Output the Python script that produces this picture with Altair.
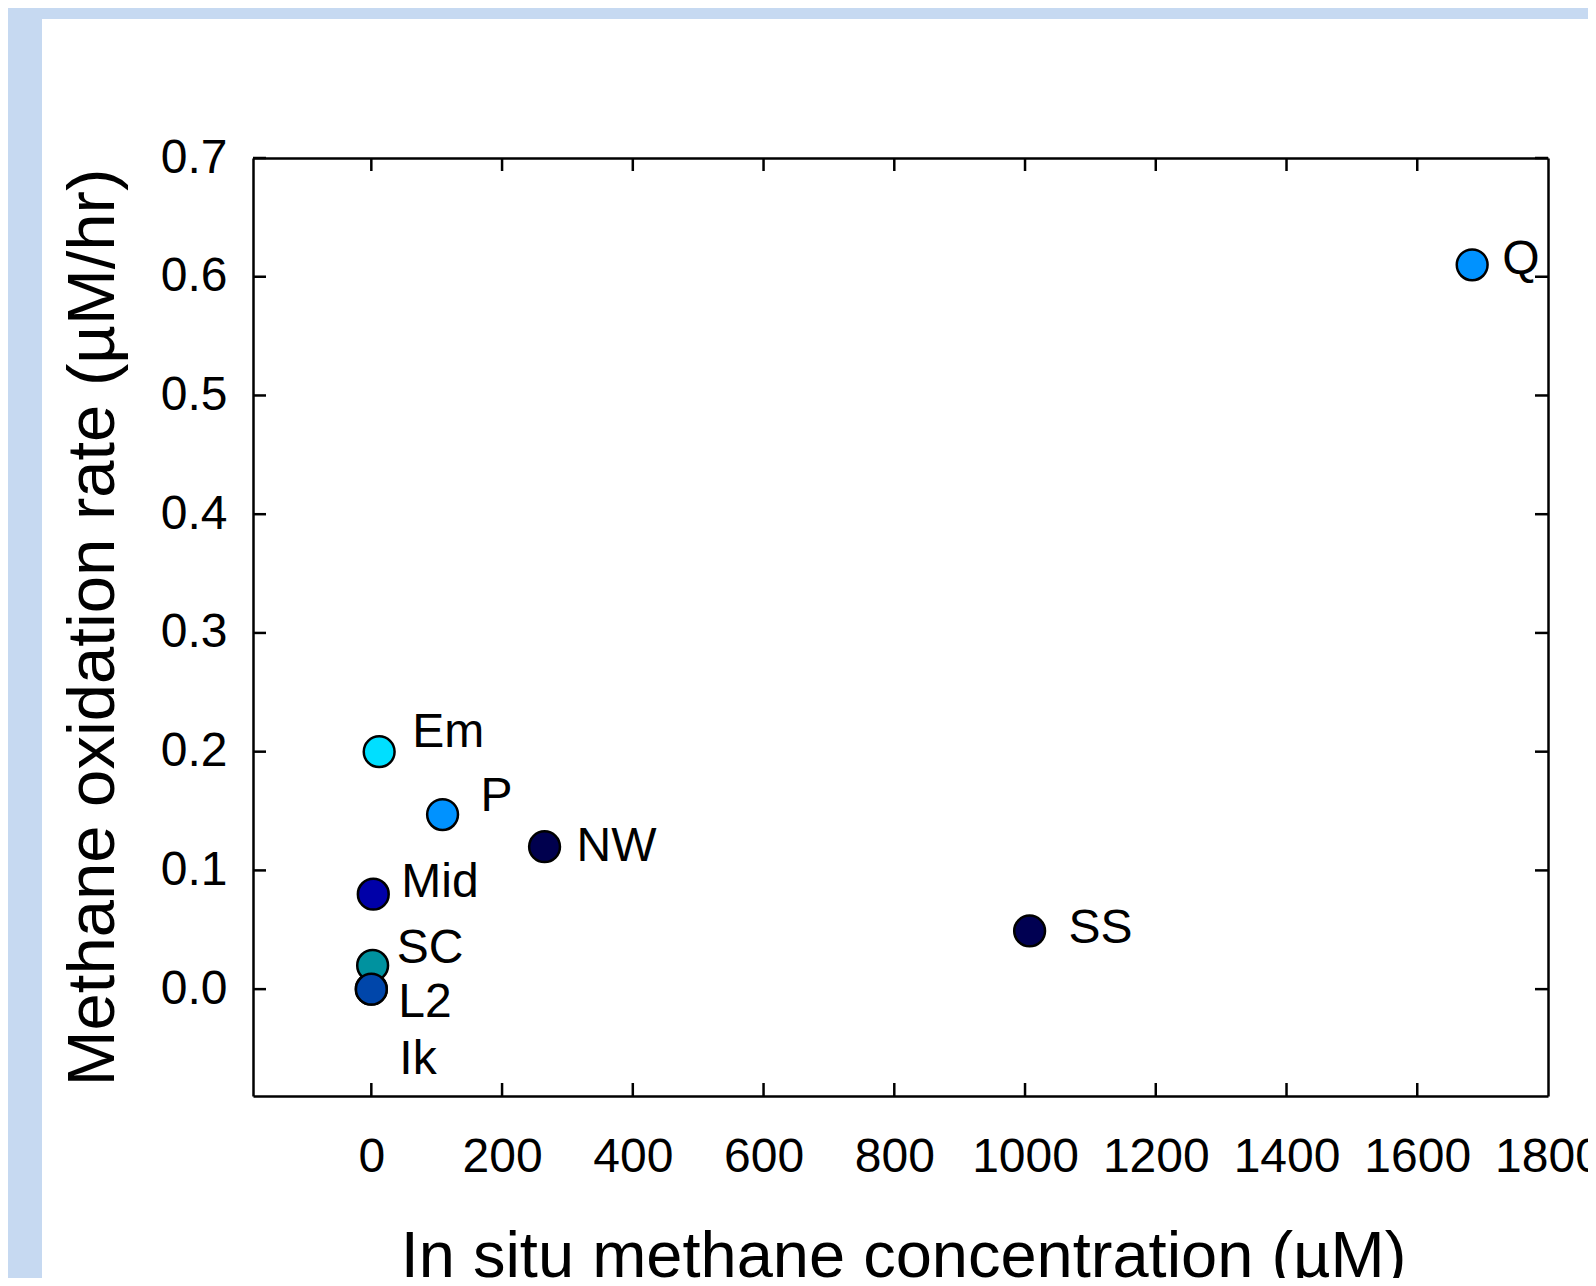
import altair as alt
import pandas as pd

# ---- data ----
sites = ["Ik", "SC", "L2", "Mid", "Em", "P", "NW", "SS", "Q"]
conc = [0, 2, 0, 3, 12, 109, 265, 1007, 1684]
rate = [0.0, 0.02, 0.0, 0.08, 0.20, 0.147, 0.12, 0.049, 0.61]
colors = ["#0046AA", "#00929F", "#0046AA", "#0000A8", "#00DFFF",
          "#0092FF", "#00004E", "#000052", "#0092FF"]
x_tick_values = [0, 200, 400, 600, 800, 1000, 1200, 1400, 1600]
x_label_values = [0, 200, 400, 600, 800, 1000, 1200, 1400, 1600, 1800]
y_tick_values = [0.0, 0.1, 0.2, 0.3, 0.4, 0.5, 0.6, 0.7]

# ---- label offsets (style) ----
label_offsets = {
    "Em": (33, -5), "P": (38, -4), "NW": (32, 14), "Mid": (28, 3),
    "SC": (24, -2), "L2": (27, 28), "Ik": (28, 85), "Q": (30, 9), "SS": (39, 12),
}

FONT = "Liberation Sans"
W, H = 1295, 938
PAD_L, PAD_T, PAD_R, PAD_B = 245, 150, 40, 182
BAND = "#C6D9F1"

df = pd.DataFrame({"site": sites, "conc": conc, "rate": rate,
                   "idx": list(range(len(sites)))})
xt = pd.DataFrame({"v": x_tick_values})
yt = pd.DataFrame({"v": y_tick_values})

xscale = alt.Scale(domain=[-181, 1800], nice=False, zero=False)
yscale = alt.Scale(domain=[-0.09, 0.7], nice=False, zero=False)

x_bottom = alt.Axis(values=x_label_values, format="d", ticks=False, tickSize=0, grid=False,
                    labelFontSize=48, labelFont=FONT, labelColor="black",
                    labelBaseline="alphabetic", labelPadding=75, labelFlush=False,
                    labelOverlap=False, zindex=1,
                    domainColor="black", domainWidth=2.5,
                    title="In situ methane concentration (\u00b5M)",
                    titleFont=FONT, titleFontSize=65, titleFontWeight="normal",
                    titleColor="black", titleBaseline="alphabetic",
                    titleY=180, titleX=650, titleAlign="center")
y_left = alt.Axis(values=y_tick_values, format=".1f", ticks=False, tickSize=0,
                  grid=False, labelFontSize=48, labelFont=FONT, labelColor="black",
                  labelPadding=26, labelBaseline="middle", labelFlush=False,
                  labelOverlap=False, zindex=1,
                  domainColor="black", domainWidth=2.5,
                  title="Methane oxidation rate (\u00b5M/hr)",
                  titleFont=FONT, titleFontSize=67, titleFontWeight="normal",
                  titleColor="black", titleBaseline="alphabetic",
                  titleX=-140, titleY=H / 2, titleAlign="center", titleAngle=270)
x_top = alt.Axis(orient="top", labels=False, ticks=False, tickSize=0, grid=False,
                 domainColor="black", domainWidth=2.5, title=None, zindex=1)
y_right = alt.Axis(orient="right", labels=False, ticks=False, tickSize=0, grid=False,
                   domainColor="black", domainWidth=2.5, title=None, zindex=1)

one = pd.DataFrame({"a": [0]})
band_left = alt.Chart(one).mark_rect(color=BAND).encode(
    x=alt.value(-PAD_L), x2=alt.value(-211), y=alt.value(-PAD_T), y2=alt.value(H + PAD_B)
)
band_top = alt.Chart(one).mark_rect(color=BAND).encode(
    x=alt.value(-PAD_L), x2=alt.value(W + PAD_R), y=alt.value(-PAD_T), y2=alt.value(-139)
)

frame = alt.Chart(df).mark_point(opacity=0).encode(
    x=alt.X("conc:Q", scale=xscale, axis=x_top),
    y=alt.Y("rate:Q", scale=yscale, axis=y_right),
)

tick_style = dict(color="black", strokeWidth=2.5)
tb = alt.Chart(xt).mark_rule(**tick_style).encode(
    x=alt.X("v:Q", scale=xscale, axis=None), y=alt.value(H), y2=alt.value(H - 13))
tt = alt.Chart(xt).mark_rule(**tick_style).encode(
    x=alt.X("v:Q", scale=xscale, axis=None), y=alt.value(0), y2=alt.value(13))
tl = alt.Chart(yt).mark_rule(**tick_style).encode(
    y=alt.Y("v:Q", scale=yscale, axis=None), x=alt.value(0), x2=alt.value(13))
tr = alt.Chart(yt).mark_rule(**tick_style).encode(
    y=alt.Y("v:Q", scale=yscale, axis=None), x=alt.value(W), x2=alt.value(W - 13))

points = alt.Chart(df).mark_circle(size=950, opacity=1, stroke="black",
                                   strokeWidth=2.5).encode(
    x=alt.X("conc:Q", scale=xscale, axis=x_bottom),
    y=alt.Y("rate:Q", scale=yscale, axis=y_left),
    color=alt.Color("site:N", scale=alt.Scale(domain=sites, range=colors), legend=None),
    order=alt.Order("idx:Q"),
)

labels = []
for s in sites:
    dx, dy = label_offsets[s]
    labels.append(
        alt.Chart(df).transform_filter(alt.datum.site == s).mark_text(
            align="left", baseline="alphabetic", dx=dx, dy=dy,
            fontSize=48, font=FONT, color="black"
        ).encode(
            x=alt.X("conc:Q", scale=xscale, axis=None),
            y=alt.Y("rate:Q", scale=yscale, axis=None),
            text="site:N",
        )
    )

chart = alt.layer(band_left, band_top, frame, tb, tt, tl, tr, points, *labels).resolve_axis(
    x="independent", y="independent"
).properties(
    width=W, height=H,
    autosize=alt.AutoSizeParams(type="none"),
    padding={"left": PAD_L, "top": PAD_T, "right": PAD_R, "bottom": PAD_B},
    background="white",
).configure_view(stroke=None)

chart.save("out.html", embed_options={"renderer": "svg", "actions": False})
